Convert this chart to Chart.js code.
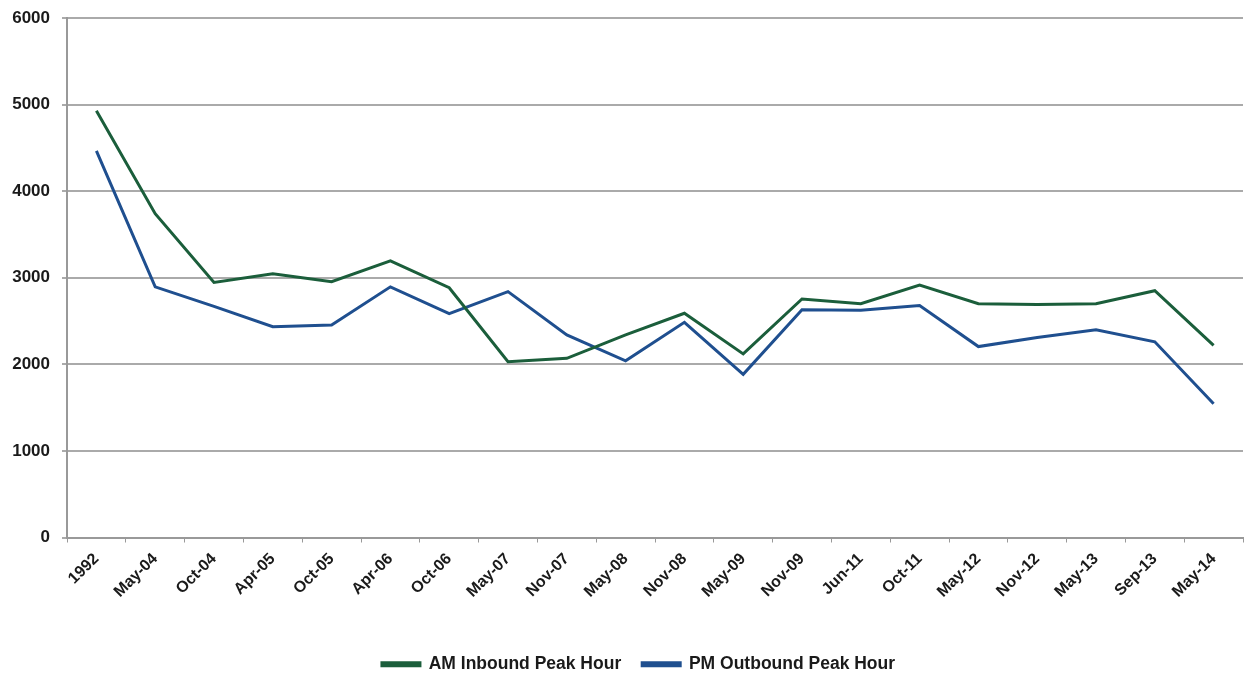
<!DOCTYPE html>
<html>
<head>
<meta charset="utf-8">
<script src="https://cdn.jsdelivr.net/npm/chart.js@4.4.1/dist/chart.umd.min.js"></script>
<style>
html,body{margin:0;padding:0;background:#fff;}
#wrap{width:1244px;height:677px;position:relative;}
</style>
</head>
<body>
<div id="wrap"><canvas id="c" width="1244" height="677"></canvas></div>
<script>
const categories = ["1992","May-04","Oct-04","Apr-05","Oct-05","Apr-06","Oct-06","May-07","Nov-07","May-08","Nov-08","May-09","Nov-09","Jun-11","Oct-11","May-12","Nov-12","May-13","Sep-13","May-14"];
const amInbound = [4930,3740,2945,3045,2955,3195,2885,2030,2070,2340,2590,2120,2755,2700,2915,2700,2690,2700,2850,2220];
const pmOutbound = [4465,2895,2670,2435,2455,2895,2585,2840,2340,2040,2485,1885,2630,2625,2680,2205,2310,2400,2260,1545];
const yTicks = [0,1000,2000,3000,4000,5000,6000];

const FONT = "'Liberation Sans', Arial, sans-serif";
const shiftLegend = {
  id: 'shiftLegend',
  afterLayout(chart) {
    if (chart.legend) { chart.legend.left += 17; chart.legend.right += 17; }
  }
};
new Chart(document.getElementById('c'), {
  type: 'line',
  data: {
    labels: categories,
    datasets: [
      {label: 'AM Inbound Peak Hour', data: amInbound, borderColor: '#1b5e3b', backgroundColor: '#1b5e3b', borderWidth: 3, pointRadius: 0, tension: 0, fill: false},
      {label: 'PM Outbound Peak Hour', data: pmOutbound, borderColor: '#1f4f8f', backgroundColor: '#1f4f8f', borderWidth: 3, pointRadius: 0, tension: 0, fill: false}
    ]
  },
  plugins: [shiftLegend],
  options: {
    responsive: false,
    animation: false,
    devicePixelRatio: 1,
    layout: {padding: {top: 18, right: 1, left: 0, bottom: -6}},
    plugins: {
      legend: {
        position: 'bottom',
        labels: {boxWidth: 38, boxHeight: 3, padding: 21, color: '#1a1a1a', font: {family: FONT, size: 17.5, weight: 'bold'}}
      },
      tooltip: {enabled: false}
    },
    scales: {
      x: {
        offset: true,
        grid: {display: true, drawOnChartArea: false, drawTicks: true, tickLength: 5, color: '#999', offset: true},
        border: {color: '#999', width: 2},
        ticks: {color: '#1a1a1a', font: {family: FONT, size: 16, weight: 'bold'}, maxRotation: 45, minRotation: 45, padding: 7, autoSkip: false},
        afterFit: (s) => { s.height = 97; }
      },
      y: {
        min: 0, max: 6000,
        afterBuildTicks: (s) => { s.ticks = yTicks.map(v => ({value: v})); },
        grid: {color: '#aaa', lineWidth: 2, drawTicks: true, tickLength: 5},
        border: {color: '#999', width: 2},
        ticks: {color: '#1a1a1a', font: {family: FONT, size: 17, weight: 'bold'}, padding: 12, callback: (v) => String(v)},
        afterFit: (s) => { s.width = 67; s.paddingTop = 0; s.paddingBottom = 0; }
      }
    }
  }
});
</script>
</body>
</html>
